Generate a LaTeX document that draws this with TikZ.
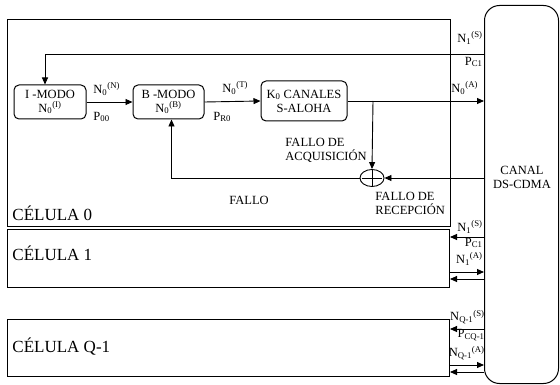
\documentclass[tikz,border=0pt]{standalone}
\usepackage{fontspec}
\setmainfont{Liberation Serif}
\usetikzlibrary{arrows.meta,shapes.geometric}
\newcommand{\lbl}[3]{#1\textsubscript{#2}\textsuperscript{#3}}
\begin{document}
\begin{tikzpicture}[x=1pt,y=-1pt,
  line width=0.9pt,
  every node/.style={font=\fontsize{12.5}{14}\selectfont, inner sep=1pt},
  cellbox/.style={draw, anchor=north west, inner sep=0pt, line width=1pt},
  modebox/.style={draw, rounded corners=5pt, align=center, inner sep=0pt, line width=1pt},
  celltext/.style={anchor=west, font=\fontsize{17}{20}\selectfont},
  arr/.style={-{Triangle[length=7pt,width=6pt]}},
  rlabel/.style={anchor=east}
]
\useasboundingbox (0,0) rectangle (560,385);

% cells
\node[cellbox, minimum width=443pt, minimum height=207pt] (c0) at (7,19) {};
\node[cellbox, minimum width=442pt, minimum height=58pt] (c1) at (7,229) {};
\node[cellbox, minimum width=442pt, minimum height=57pt] (cq) at (7,319) {};
\node[celltext] (t0) at (11,213) {CÉLULA 0};
\node[celltext] (t1) at (11,253) {CÉLULA 1};
\node[celltext] (tq) at (11,347) {CÉLULA Q-1};

% channel
\node[draw, rounded corners=15pt, anchor=north west, inner sep=0pt, minimum width=74pt, minimum height=378pt, line width=1pt] (canal) at (484,5) {};
\node[align=center] (canaltext) at (522,177) {CANAL\\DS-CDMA};

% mode boxes
\node[modebox, minimum width=72pt, minimum height=34pt] (imodo) at (50,102) {I -MODO\\\lbl{N}{0}{(I)}};
\node[modebox, minimum width=71pt, minimum height=34pt] (bmodo) at (168.5,102) {B -MODO\\\lbl{N}{0}{(B)}};
\node[modebox, minimum width=86pt, minimum height=40pt] (kbox) at (304,101) {K\textsubscript{0} CANALES\\S-ALOHA};

% sum
\node[draw, ellipse, minimum width=24pt, minimum height=17pt, inner sep=0pt] (sum) at (372,178) {};
\draw ([yshift=-1pt]sum.north) -- ([yshift=1pt]sum.south);
\draw ([xshift=2pt]sum.west) -- ([xshift=-2pt]sum.east);

% connectors
\draw[arr] (imodo.east) -- (bmodo.west);
\draw[arr] (bmodo.east) -- (kbox.west);
\draw[arr] (kbox.east) -- (canal.west |- kbox.east);
\coordinate (br) at (373,0);
\draw[arr] (br |- kbox.east) -- (sum.north);
\draw[arr] (canal.west |- sum.east) -- (sum.east);
\draw[arr] (sum.west) -| ([xshift=3pt]bmodo.south);
\coordinate (fb) at (45,54);
\draw[arr] (canal.west |- fb) -- (fb) -- (fb |- imodo.north);

% labels cell 0
\node[anchor=west] (nn) at (92,89) {\lbl{N}{0}{(N)}};
\node[anchor=west] (p00) at (92,117) {P\textsubscript{00}};
\node[anchor=west] (nt) at (221,88) {\lbl{N}{0}{(T)}};
\node[anchor=west] (pr0) at (212,117) {P\textsubscript{R0}};
\node[rlabel] (n1s0) at (484,38) {\lbl{N}{1}{(S)}};
\node[rlabel] (pc10) at (484,62) {P\textsubscript{C1}};
\node[anchor=west] (n0a) at (450,88) {\lbl{N}{0}{(A)}};
\node[anchor=west, align=left] (fa) at (284,150) {FALLO DE\\ACQUISICIÓN};
\node[anchor=west, align=left] (fr) at (374,203) {FALLO DE\\RECEPCIÓN};
\node (fallo) at (249,200) {FALLO};

% cell 1 connectors
\coordinate (a1) at (0,237);
\coordinate (b1) at (0,272);
\coordinate (d1) at (0,279);
\draw[arr] (canal.west |- a1) -- (c1.east |- a1);
\draw[arr] (c1.east |- b1) -- (canal.west |- b1);
\draw[arr] (canal.west |- d1) -- (c1.east |- d1);
\node[rlabel] (n1s1) at (484,227) {\lbl{N}{1}{(S)}};
\node[rlabel] (pc11) at (484,243) {P\textsubscript{C1}};
\node[rlabel] (n1a1) at (484,259) {\lbl{N}{1}{(A)}};

% cell Q-1 connectors
\coordinate (aq) at (0,329);
\coordinate (bq) at (0,365);
\coordinate (dq) at (0,372);
\draw[arr] (canal.west |- aq) -- (cq.east |- aq);
\draw[arr] (cq.east |- bq) -- (canal.west |- bq);
\draw[arr] (canal.west |- dq) -- (cq.east |- dq);
\node[rlabel] (nqs) at (486,317) {\lbl{N}{Q-1}{(S)}};
\node[rlabel] (pcq) at (486,335) {P\textsubscript{CQ-1}};
\node[rlabel] (nqa) at (486,353) {\lbl{N}{Q-1}{(A)}};
\end{tikzpicture}
\end{document}
